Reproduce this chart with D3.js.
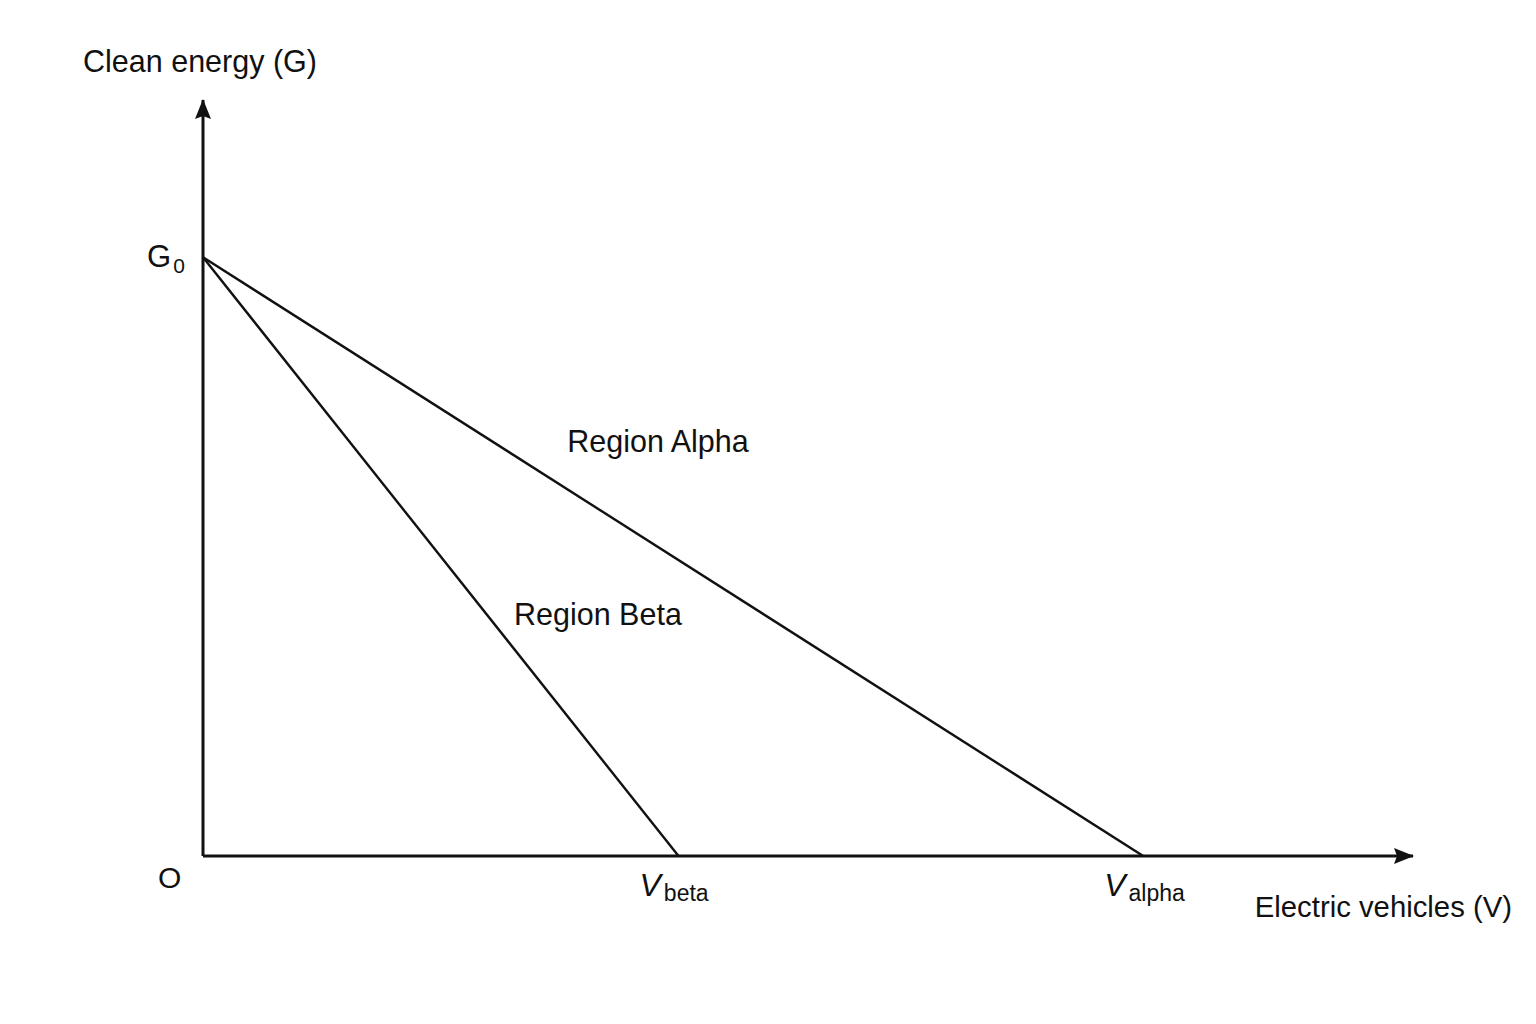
<!DOCTYPE html>
<html>
<head>
	<meta charset="utf-8" />
	<title>Clean energy vs electric vehicles</title>
	<script src="https://d3js.org/d3.v7.min.js"></script>
	<style>
		body, html {
			margin: 0;
			width: 100%;
			height: 100%;
			background: #fff;
		}
		svg text {
			font-family: "Liberation Sans", Arial, sans-serif;
			fill: #111;
		}
	</style>
</head>
<body>
	<svg id="chart" width="1536" height="1024"></svg>
	<script>
		// values in arbitrary units (axis runs 0..100 in both directions)
		var regions = ["Region Alpha", "Region Beta"];
		var intercepts = [77.7, 39.3];      // V where each line meets the axis
		var subscripts = ["alpha", "beta"];
		var g0 = 79.2;                      // common G intercept

		var svg = d3.select("#chart");

		var x = d3.scaleLinear().domain([0, 100]).range([203, 1413]);
		var y = d3.scaleLinear().domain([0, 100]).range([856, 100]);

		// arrow head
		svg.append("defs").append("marker")
			.attr("id", "arrow")
			.attr("viewBox", "0 0 20 16")
			.attr("refX", 19)
			.attr("refY", 8)
			.attr("markerWidth", 20)
			.attr("markerHeight", 16)
			.attr("markerUnits", "userSpaceOnUse")
			.attr("orient", "auto")
			.append("path")
			.attr("d", "M0,0 L20,8 L0,16 L3,8 Z")
			.attr("fill", "#111");

		// axes
		svg.append("line")
			.attr("x1", x(0)).attr("y1", y(0))
			.attr("x2", x(100)).attr("y2", y(0))
			.attr("stroke", "#111").attr("stroke-width", 3)
			.attr("marker-end", "url(#arrow)");

		svg.append("line")
			.attr("x1", x(0)).attr("y1", y(0))
			.attr("x2", x(0)).attr("y2", y(100))
			.attr("stroke", "#111").attr("stroke-width", 3)
			.attr("marker-end", "url(#arrow)");

		// the two lines from G0 down to the V intercepts
		var line = d3.line().x(function(d) { return x(d[0]); }).y(function(d) { return y(d[1]); });

		svg.selectAll(".region-line")
			.data(intercepts)
			.enter()
			.append("path")
			.attr("class", "region-line")
			.attr("d", function(d) { return line([[0, g0], [d, 0]]); })
			.attr("fill", "none")
			.attr("stroke", "#111")
			.attr("stroke-width", 2.4);

		// axis titles
		svg.append("text")
			.attr("x", 83).attr("y", 72)
			.attr("font-size", 30.5)
			.text("Clean energy (G)");

		svg.append("text")
			.attr("x", 1512).attr("y", 917)
			.attr("text-anchor", "end")
			.attr("font-size", 29.3)
			.text("Electric vehicles (V)");

		// origin and G0
		svg.append("text")
			.attr("x", x(0) - 45).attr("y", y(0) + 32)
			.attr("font-size", 30)
			.text("O");

		var g0Label = svg.append("text")
			.attr("x", x(0) - 56).attr("y", y(g0) + 10)
			.attr("font-size", 31)
			.text("G");
		g0Label.append("tspan")
			.attr("dy", 6)
			.attr("dx", 2)
			.attr("font-size", 21)
			.text("0");

		// V intercept labels
		svg.selectAll(".v-label")
			.data(intercepts)
			.enter()
			.append("text")
			.attr("class", "v-label")
			.attr("x", function(d) { return x(d) - 39; })
			.attr("y", y(0) + 40)
			.each(function(d, i) {
				var t = d3.select(this);
				t.append("tspan")
					.attr("font-size", 32)
					.attr("font-style", "italic")
					.text("V");
				t.append("tspan")
					.attr("font-size", 23)
					.attr("dx", 3)
					.attr("dy", 5)
					.text(subscripts[i]);
			});

		// region labels, anchored in data units
		var regionPos = [[30.1, 53.5], [25.7, 30.6]];
		svg.selectAll(".region-label")
			.data(regions)
			.enter()
			.append("text")
			.attr("class", "region-label")
			.attr("x", function(d, i) { return x(regionPos[i][0]); })
			.attr("y", function(d, i) { return y(regionPos[i][1]); })
			.attr("font-size", 30.5)
			.text(function(d) { return d; });
	</script>
</body>
</html>
